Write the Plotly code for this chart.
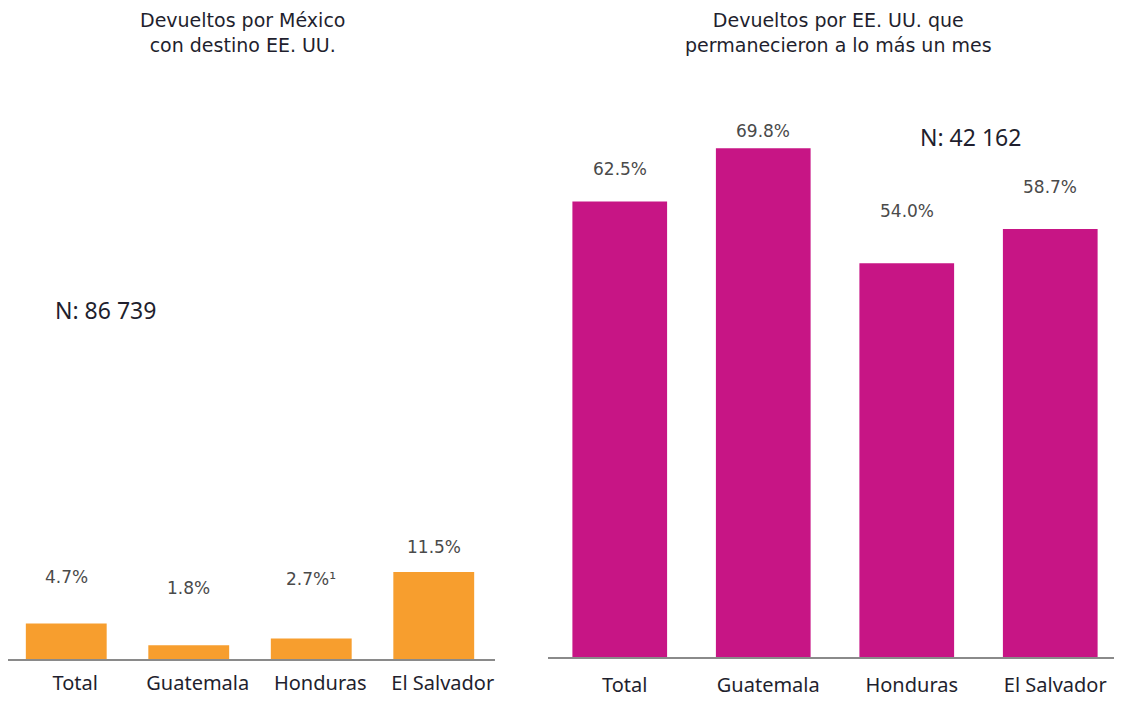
import plotly.graph_objects as go

categories = ["Total", "Guatemala", "Honduras", "El Salvador"]
mexico_values = [4.7, 1.8, 2.7, 11.5]
mexico_labels = ["4.7%", "1.8%", "2.7%¹", "11.5%"]
eeuu_values = [62.5, 69.8, 54.0, 58.7]
eeuu_labels = ["62.5%", "69.8%", "54.0%", "58.7%"]
title_left = "Devueltos por México<br>con destino EE. UU."
title_right = "Devueltos por EE. UU. que<br>permanecieron a lo más un mes"
n_left = "N: 86 739"
n_right = "N: 42 162"

# page body has an 8px margin; figure is sized/positioned to compensate
OFF = 8
W, H = 1122 - OFF, 703 - OFF
ORANGE = "#F79E2E"
MAGENTA = "#C71585"
FONT = "Noto Sans"
VFONT = "DejaVu Sans"
TXT = "#1f1f2e"
GREY = "#4a4a4a"


def px(x):
    return (x - OFF) / W


def py(y):
    return 1 - (y - OFF) / H


fig = go.Figure()
fig.add_trace(go.Bar(x=categories, y=mexico_values, marker_color=ORANGE,
                     marker_line_width=0, xaxis="x", yaxis="y", hoverinfo="skip"))
fig.add_trace(go.Bar(x=categories, y=eeuu_values, marker_color=MAGENTA,
                     marker_line_width=0, xaxis="x2", yaxis="y2", hoverinfo="skip"))

axis_common = dict(showgrid=False, zeroline=False, showline=True, linecolor="#8a8a8a",
                   linewidth=1.5, ticks="", fixedrange=True,
                   tickfont=dict(family=FONT, size=20, color=TXT))

catw_l = (495 - 5) / 4.0
fig.update_layout(
    width=W, height=H, margin=dict(l=0, r=0, t=0, b=0),
    paper_bgcolor="white", plot_bgcolor="white", showlegend=False, bargap=0.34,
    xaxis=dict(domain=[0, px(495)], anchor="y", range=[-0.5 + (OFF - 5) / catw_l, 3.5],
               ticklabelstandoff=5, ticklabelshift=9, **axis_common),
    xaxis2=dict(domain=[px(548), 1.0], anchor="y2", range=[-0.5, 3.5],
                ticklabelstandoff=9, ticklabelshift=5, **axis_common),
    yaxis=dict(domain=[py(659), 1], range=[0, (659 - OFF) / 7.57], visible=False, fixedrange=True),
    yaxis2=dict(domain=[py(657), 1], range=[0, (657 - OFF) / 7.29], visible=False, fixedrange=True),
)

# value labels above bars
shift_l = [46, 57, 60, 25]
shift_r = [32, 17, 52, 42]
for c, v, t, s in zip(categories, mexico_values, mexico_labels, shift_l):
    fig.add_annotation(x=c, y=v, xref="x", yref="y", text=t, showarrow=False,
                       yshift=s, font=dict(family=VFONT, size=17, color=GREY))
for c, v, t, s in zip(categories, eeuu_values, eeuu_labels, shift_r):
    fig.add_annotation(x=c, y=v, xref="x2", yref="y2", text=t, showarrow=False,
                       yshift=s, font=dict(family=VFONT, size=17, color=GREY))

# titles
fig.add_annotation(x=px(242), y=1, xref="paper", yref="paper", text=title_left,
                   showarrow=False, align="center", xanchor="center", yanchor="top",
                   borderpad=0, font=dict(family=VFONT, size=19, color=TXT))
fig.add_annotation(x=px(838), y=1, xref="paper", yref="paper", text=title_right,
                   showarrow=False, align="center", xanchor="center", yanchor="top",
                   borderpad=0, font=dict(family=VFONT, size=19, color=TXT))
# N labels
fig.add_annotation(x=px(105), y=py(310), xref="paper", yref="paper", text=n_left,
                   showarrow=False, xanchor="center", yanchor="middle",
                   font=dict(family=FONT, size=23, color=TXT))
fig.add_annotation(x=px(970), y=py(137), xref="paper", yref="paper", text=n_right,
                   showarrow=False, xanchor="center", yanchor="middle",
                   font=dict(family=FONT, size=23, color=TXT))

fig.write_html("out.html", config={"displayModeBar": False})
